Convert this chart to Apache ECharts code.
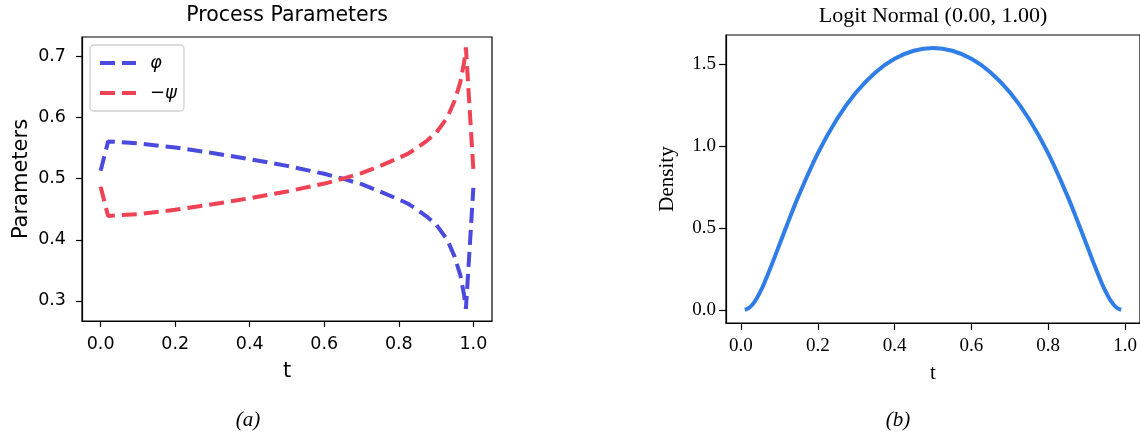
<!DOCTYPE html>
<html><head><meta charset="utf-8">
<script src="https://cdn.jsdelivr.net/npm/echarts@6/dist/echarts.min.js"></script>
<style>html,body{margin:0;padding:0;background:#fff}#c{width:1140px;height:432px}</style>
</head><body><div id="c"></div>
<script>
// ---- panel (a): process parameters ----
const tParams = [0, 0.02, 0.1, 0.2, 0.3, 0.4, 0.5, 0.6, 0.65, 0.7, 0.75, 0.8, 0.825, 0.85, 0.875, 0.9, 0.93, 0.95, 0.965, 0.975, 0.98, 1.0];
const phiValues = [0.513, 0.561, 0.558, 0.551, 0.542, 0.532, 0.521, 0.508, 0.5, 0.491, 0.479, 0.466, 0.459, 0.449, 0.438, 0.425, 0.4, 0.372, 0.342, 0.31, 0.287, 0.485];
const negPsiValues = [0.487, 0.439, 0.442, 0.449, 0.458, 0.468, 0.479, 0.492, 0.5, 0.509, 0.521, 0.534, 0.541, 0.551, 0.562, 0.575, 0.6, 0.628, 0.658, 0.69, 0.715, 0.515];
const seriesNames = ['φ', '−ψ'];
const xTicks = [0, 0.2, 0.4, 0.6, 0.8, 1.0];
const paramTicks = [0.3, 0.4, 0.5, 0.6, 0.7];

// ---- panel (b): logit-normal density ----
const tDensity = [0.01, 0.02, 0.03, 0.04, 0.05, 0.06, 0.08, 0.1, 0.12, 0.15, 0.2, 0.25, 0.3, 0.35, 0.4, 0.45, 0.5, 0.55, 0.6, 0.65, 0.7, 0.75, 0.8, 0.85, 0.88, 0.9, 0.92, 0.94, 0.95, 0.96, 0.97, 0.98, 0.99];
const densityValues = [0.001, 0.0105, 0.0326, 0.0666, 0.110, 0.160, 0.275, 0.397, 0.519, 0.695, 0.954, 1.164, 1.327, 1.448, 1.531, 1.580, 1.596, 1.580, 1.531, 1.448, 1.327, 1.164, 0.954, 0.695, 0.519, 0.397, 0.275, 0.160, 0.110, 0.0666, 0.0326, 0.0105, 0.001];
const densityTicks = [0, 0.5, 1.0, 1.5];

const titles = { a: 'Process Parameters', b: 'Logit Normal (0.00, 1.00)', capA: '(a)', capB: '(b)' };

const SANS = 'DejaVu Sans';
const SERIF = 'Liberation Serif';
const zip = (xs, ys) => xs.map((x, i) => [x, ys[i]]);

function axisCommon(font, size, ticks, fmt, margin, tickLen) {
  return {
    type: 'value',
    splitLine: { show: false },
    axisLine: { show: true, onZero: false, lineStyle: { color: '#000', width: 1.2 } },
    axisTick: { show: true, inside: false, length: tickLen, customValues: ticks, lineStyle: { color: '#000', width: 1.2 } },
    axisLabel: { show: true, customValues: ticks, formatter: fmt, margin: margin, color: '#000', fontFamily: font, fontSize: size },
    nameTextStyle: { color: '#000' }
  };
}
const f1 = v => v.toFixed(1);

const chart = echarts.init(document.getElementById('c'), null, { renderer: 'canvas' });
chart.setOption({
  animation: false,
  backgroundColor: '#fff',
  grid: [
    { left: 82, top: 37, width: 410, height: 284, show: true, borderColor: '#000', borderWidth: 1.2, backgroundColor: 'transparent' },
    { left: 726, top: 35, width: 415, height: 288, show: true, borderColor: '#000', borderWidth: 1.2, backgroundColor: 'transparent' }
  ],
  xAxis: [
    Object.assign(axisCommon(SANS, 17.5, xTicks, f1, 14, 6), {
      gridIndex: 0, min: -0.05, max: 1.05, name: 't', nameLocation: 'middle', nameGap: 40,
      nameTextStyle: { color: '#000', fontFamily: SANS, fontSize: 21 }
    }),
    Object.assign(axisCommon(SERIF, 19, xTicks, f1, 14, 7), {
      gridIndex: 1, min: -0.039, max: 1.039, name: 't', nameLocation: 'middle', nameGap: 40,
      nameTextStyle: { color: '#000', fontFamily: SERIF, fontSize: 21 }
    })
  ],
  yAxis: [
    Object.assign(axisCommon(SANS, 17.5, paramTicks, f1, 16, 6), {
      gridIndex: 0, min: 0.267, max: 0.732, name: 'Parameters', nameLocation: 'middle', nameGap: 50,
      nameTextStyle: { color: '#000', fontFamily: SANS, fontSize: 21 }
    }),
    Object.assign(axisCommon(SERIF, 19, densityTicks, f1, 10, 7), {
      gridIndex: 1, min: -0.0798, max: 1.676, name: 'Density', nameLocation: 'middle', nameGap: 48,
      nameTextStyle: { color: '#000', fontFamily: SERIF, fontSize: 21 }
    })
  ],
  legend: {
    data: seriesNames,
    orient: 'vertical', left: 90, top: 45,
    itemWidth: 36, itemHeight: 14, itemGap: 12,
    borderColor: '#d0d0d0', borderWidth: 1.3, borderRadius: 4,
    padding: [9, 7, 9, 8],
    itemStyle: { opacity: 0 },
    lineStyle: { width: 4, type: [15, 7] },
    formatter: n => n === '−ψ' ? '{s|}{m|−}{i|ψ}' : '{s|}{i|' + n + '}',
    textStyle: {
      color: '#000', fontFamily: SANS, fontSize: 18,
      rich: {
        s: { width: 9 },
        m: { fontFamily: SANS, fontSize: 18, color: '#000' },
        i: { fontFamily: SANS, fontStyle: 'italic', fontSize: 18, color: '#000' }
      }
    }
  },
  series: [
    { name: seriesNames[0], type: 'line', xAxisIndex: 0, yAxisIndex: 0, data: zip(tParams, phiValues), symbol: 'none', smooth: false,
      lineStyle: { color: '#4a4ade', width: 4, type: [15, 7] }, itemStyle: { color: '#4a4ade' } },
    { name: seriesNames[1], type: 'line', xAxisIndex: 0, yAxisIndex: 0, data: zip(tParams, negPsiValues), symbol: 'none', smooth: false,
      lineStyle: { color: '#ef4255', width: 4, type: [15, 7] }, itemStyle: { color: '#ef4255' } },
    { name: 'density', type: 'line', xAxisIndex: 1, yAxisIndex: 1, data: zip(tDensity, densityValues), symbol: 'none', smooth: 0.35,
      lineStyle: { color: '#2f7de6', width: 4 }, itemStyle: { color: '#2f7de6' } }
  ],
  graphic: [
    { type: 'text', x: 287, y: 16, style: { text: titles.a, fill: '#000', font: '20.5px "DejaVu Sans"', textAlign: 'center', textVerticalAlign: 'middle' } },
    { type: 'text', x: 933, y: 16, style: { text: titles.b, fill: '#000', font: '22px "Liberation Serif"', textAlign: 'center', textVerticalAlign: 'middle' } },
    { type: 'text', x: 248, y: 420, style: { text: titles.capA, fill: '#000', font: 'italic 21px "Liberation Serif"', textAlign: 'center', textVerticalAlign: 'middle' } },
    { type: 'text', x: 898, y: 420, style: { text: titles.capB, fill: '#000', font: 'italic 21px "Liberation Serif"', textAlign: 'center', textVerticalAlign: 'middle' } }
  ]
});
</script></body></html>
